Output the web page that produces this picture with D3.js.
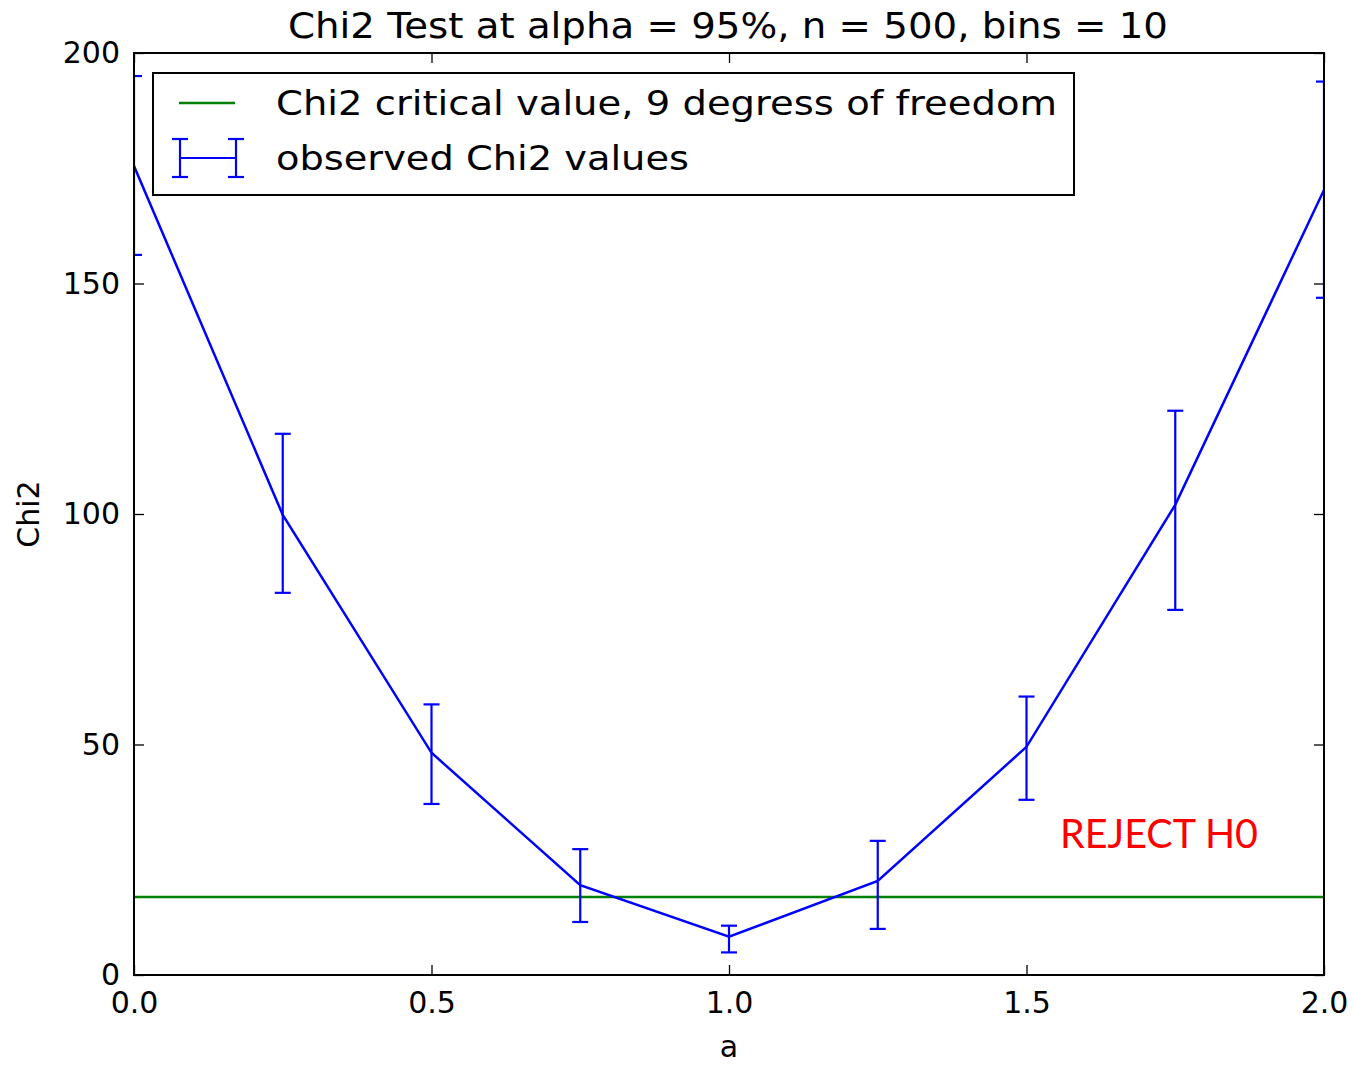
<!DOCTYPE html>
<html>
<head>
<meta charset="utf-8">
<script src="https://cdn.jsdelivr.net/npm/d3@7"></script>
<style>
  html, body { margin: 0; padding: 0; background: #fff; }
  svg { display: block; }
  text { font-family: "DejaVu Sans", sans-serif; fill: #000; }
</style>
</head>
<body>
<svg id="chart" width="1352" height="1065"></svg>
<script>
// ---- data ----
const aValues   = [0, 0.25, 0.5, 0.75, 1.0, 1.25, 1.5, 1.75, 2.0];
const chi2Obs   = [175.5, 99.8, 48.2, 19.5, 8.3, 20.4, 49.5, 102.0, 170.3];
const chi2Upper = [195.0, 117.4, 58.7, 27.3, 10.7, 29.1, 60.4, 122.4, 193.8];
const chi2Lower = [156.2, 82.9, 37.1, 11.5, 4.9, 10.0, 38.0, 79.2, 146.9];
const chi2Critical = 16.92;
const xTicks = [0, 0.5, 1.0, 1.5, 2.0];
const yTicks = [0, 50, 100, 150, 200];
const titleText = "Chi2 Test at alpha = 95%, n = 500, bins = 10";
const legendLabels = ["Chi2 critical value, 9 degress of freedom", "observed Chi2 values"];
const annotation = "REJECT H0";

// ---- layout ----
const L = 134, R = 1324, T = 53, B = 975;
const svg = d3.select("#chart");
const x = d3.scaleLinear().domain([0, 2]).range([L, R]);
const y = d3.scaleLinear().domain([0, 200]).range([B, T]);

svg.append("defs").append("clipPath").attr("id", "plotclip")
  .append("rect").attr("x", L).attr("y", T).attr("width", R - L).attr("height", B - T);

const tickFont = 30, tickLen = 10;

// axes
const gx = svg.append("g").attr("transform", `translate(0,${B})`)
  .call(d3.axisBottom(x).tickValues(xTicks).tickFormat(d3.format(".1f"))
    .tickSizeInner(-tickLen).tickSizeOuter(0).tickPadding(17));
const gxt = svg.append("g").attr("transform", `translate(0,${T})`)
  .call(d3.axisTop(x).tickValues(xTicks).tickFormat("")
    .tickSizeInner(-tickLen).tickSizeOuter(0));
const gy = svg.append("g").attr("transform", `translate(${L},0)`)
  .call(d3.axisLeft(y).tickValues(yTicks).tickFormat(d3.format("d"))
    .tickSizeInner(-tickLen).tickSizeOuter(0).tickPadding(14));
const gyr = svg.append("g").attr("transform", `translate(${R},0)`)
  .call(d3.axisRight(y).tickValues(yTicks).tickFormat("")
    .tickSizeInner(-tickLen).tickSizeOuter(0));
[gx, gxt, gy, gyr].forEach(g => {
  g.select(".domain").remove();
  g.selectAll(".tick line").attr("stroke", "#000").attr("stroke-width", 1.3);
  g.selectAll("text").style("font-family", "DejaVu Sans").style("font-size", tickFont + "px").attr("fill", "#000");
});

const plot = svg.append("g").attr("clip-path", "url(#plotclip)");

// critical value line
plot.append("line")
  .attr("x1", L).attr("x2", R)
  .attr("y1", y(chi2Critical)).attr("y2", y(chi2Critical))
  .attr("stroke", "#008000").attr("stroke-width", 2.5);

// observed line
const pts = aValues.map((a, i) => [a, chi2Obs[i]]);
plot.append("path").datum(pts)
  .attr("d", d3.line().x(d => x(d[0])).y(d => y(d[1])))
  .attr("fill", "none").attr("stroke", "#0000ff").attr("stroke-width", 2.5);

// error bars
const cap = 8;
const eb = plot.append("g").attr("stroke", "#0000ff").attr("stroke-width", 2.2);
aValues.forEach((a, i) => {
  const cx = x(a);
  eb.append("line").attr("x1", cx).attr("x2", cx).attr("y1", y(chi2Lower[i])).attr("y2", y(chi2Upper[i]));
  eb.append("line").attr("x1", cx - cap).attr("x2", cx + cap).attr("y1", y(chi2Lower[i])).attr("y2", y(chi2Lower[i]));
  eb.append("line").attr("x1", cx - cap).attr("x2", cx + cap).attr("y1", y(chi2Upper[i])).attr("y2", y(chi2Upper[i]));
});

// frame
svg.append("rect").attr("x", L).attr("y", T).attr("width", R - L).attr("height", B - T)
  .attr("fill", "none").attr("stroke", "#000").attr("stroke-width", 2);

// title
svg.append("text").attr("x", 288).attr("y", 38)
  .attr("textLength", 880).attr("lengthAdjust", "spacingAndGlyphs")
  .style("font-size", "36px").text(titleText);

// axis labels
svg.append("text").attr("x", (L + R) / 2).attr("y", 1057).attr("text-anchor", "middle")
  .style("font-size", "30px").text("a");
svg.append("text").attr("transform", `translate(39,${(T + B) / 2}) rotate(-90)`)
  .attr("text-anchor", "middle").style("font-size", "30px").text("Chi2");

// legend
const lg = svg.append("g");
lg.append("rect").attr("x", 153).attr("y", 73).attr("width", 921).attr("height", 122)
  .attr("fill", "#fff").attr("stroke", "#000").attr("stroke-width", 2);
lg.append("line").attr("x1", 179).attr("x2", 235).attr("y1", 103).attr("y2", 103)
  .attr("stroke", "#008000").attr("stroke-width", 2.5);
const le = lg.append("g").attr("stroke", "#0000ff").attr("stroke-width", 2.2);
le.append("line").attr("x1", 180).attr("x2", 236).attr("y1", 158).attr("y2", 158);
[180, 236].forEach(cx => {
  le.append("line").attr("x1", cx).attr("x2", cx).attr("y1", 139).attr("y2", 177);
  le.append("line").attr("x1", cx - cap).attr("x2", cx + cap).attr("y1", 139).attr("y2", 139);
  le.append("line").attr("x1", cx - cap).attr("x2", cx + cap).attr("y1", 177).attr("y2", 177);
});
lg.append("text").attr("x", 276).attr("y", 115)
  .attr("textLength", 781).attr("lengthAdjust", "spacingAndGlyphs")
  .style("font-size", "34px").text(legendLabels[0]);
lg.append("text").attr("x", 276).attr("y", 170)
  .attr("textLength", 413).attr("lengthAdjust", "spacingAndGlyphs")
  .style("font-size", "34px").text(legendLabels[1]);

// annotation
svg.append("text").attr("x", 1060).attr("y", 848)
  .attr("textLength", 198).attr("lengthAdjust", "spacingAndGlyphs")
  .style("font-family", "Lato, 'Open Sans', sans-serif").style("font-size", "41px")
  .style("fill", "#ff0000").text(annotation);
</script>
</body>
</html>
